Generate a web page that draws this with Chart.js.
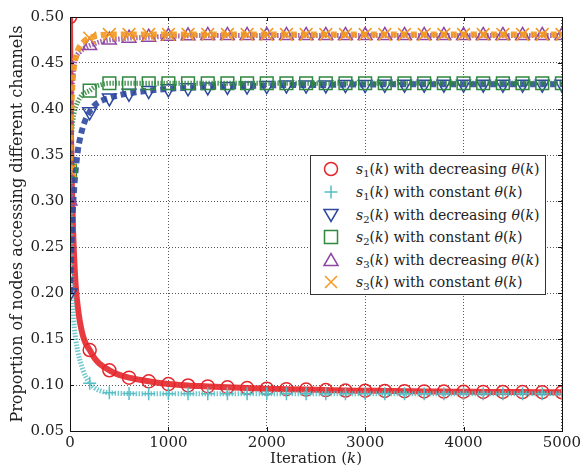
<!DOCTYPE html>
<html>
<head>
<meta charset="utf-8">
<script src="https://cdn.jsdelivr.net/npm/chart.js@4/dist/chart.umd.min.js"></script>
<style>
  html, body { margin: 0; padding: 0; background: #fff; }
  #wrap { position: relative; width: 584px; height: 470px; font-family: "DejaVu Serif", serif; color: #222; }
  #plot { position: absolute; left: 0; top: 0; }
  #xtitle { position: absolute; left: 70px; width: 492px; top: 449px; text-align: center; font-size: 15px; line-height: 18px; }
  #legend { position: absolute; left: 310px; top: 155px; width: 234px; height: 138px; border: 1px solid #333; background: #fff; }
  .row { position: absolute; left: 0; height: 20px; width: 234px; }
  .row svg { position: absolute; left: 10px; top: 0; }
  .row span.lab { position: absolute; left: 45px; top: 0; font-size: 14px; line-height: 20px; white-space: nowrap; }
  .sub { font-size: 10px; position: relative; top: 3px; }
  i { font-style: italic; }
</style>
</head>
<body>
<div id="wrap">
  <canvas id="plot" width="584" height="470"></canvas>
  <div id="xtitle">Iteration (<i>k</i>)</div>
  <div id="legend"></div>
</div>
<script>
// Iteration indices at which each proportion is sampled
const iterK = [0, 5, 10, 20, 30, 45, 60, 80, 100, 130, 160, 200, 250, 300, 400, 500, 600, 800,
  1000, 1200, 1400, 1600, 1800, 2000, 2200, 2400, 2600, 2800, 3000, 3200, 3400, 3600, 3800,
  4000, 4200, 4400, 4600, 4800, 5000];

const s1Decreasing = [0.500, 0.425, 0.372, 0.312, 0.272, 0.232, 0.205, 0.184, 0.169, 0.154, 0.145, 0.138, 0.129, 0.123, 0.116, 0.111, 0.108, 0.104,
  0.101, 0.0995, 0.0985, 0.0975, 0.0967, 0.0960, 0.0955, 0.0950, 0.0945, 0.0940, 0.0938, 0.0935, 0.0933, 0.0930, 0.0928,
  0.0927, 0.0925, 0.0924, 0.0923, 0.0922, 0.0921];
const s1Constant = [0.333, 0.290, 0.255, 0.205, 0.183, 0.162, 0.148, 0.136, 0.127, 0.117, 0.109, 0.102, 0.097, 0.094, 0.0915, 0.0910, 0.0907, 0.0905,
  0.0905, 0.0905, 0.0905, 0.0905, 0.0905, 0.0905, 0.0905, 0.0905, 0.0905, 0.0905, 0.0905, 0.0905, 0.0905, 0.0905, 0.0905,
  0.0905, 0.0905, 0.0905, 0.0905, 0.0905, 0.0905];
const s2Decreasing = [0.200, 0.215, 0.235, 0.268, 0.292, 0.318, 0.336, 0.355, 0.367, 0.380, 0.389, 0.397, 0.404, 0.408, 0.412, 0.415, 0.417, 0.420,
  0.422, 0.423, 0.424, 0.4245, 0.425, 0.4255, 0.426, 0.426, 0.4262, 0.4265, 0.4265, 0.4268, 0.427, 0.427, 0.427,
  0.427, 0.427, 0.427, 0.427, 0.427, 0.427];
const s2Constant = [0.333, 0.350, 0.362, 0.378, 0.388, 0.397, 0.403, 0.408, 0.412, 0.416, 0.418, 0.420, 0.424, 0.426, 0.428, 0.428, 0.428, 0.428,
  0.428, 0.428, 0.428, 0.428, 0.428, 0.428, 0.428, 0.428, 0.428, 0.428, 0.428, 0.428, 0.428, 0.428, 0.428,
  0.428, 0.428, 0.428, 0.428, 0.428, 0.428];
const s3Decreasing = [0.300, 0.360, 0.395, 0.420, 0.436, 0.450, 0.456, 0.460, 0.462, 0.465, 0.467, 0.469, 0.471, 0.473, 0.475, 0.476, 0.477, 0.478,
  0.479, 0.4795, 0.480, 0.480, 0.480, 0.480, 0.480, 0.480, 0.480, 0.480, 0.480, 0.480, 0.480, 0.480, 0.480,
  0.480, 0.480, 0.480, 0.480, 0.480, 0.480];
const s3Constant = [0.333, 0.360, 0.383, 0.417, 0.435, 0.450, 0.456, 0.464, 0.468, 0.472, 0.475, 0.477, 0.479, 0.480, 0.481, 0.481, 0.481, 0.481,
  0.481, 0.481, 0.481, 0.481, 0.481, 0.481, 0.481, 0.481, 0.481, 0.481, 0.481, 0.481, 0.481, 0.481, 0.481,
  0.481, 0.481, 0.481, 0.481, 0.481, 0.481];

const xTicks = [0, 1000, 2000, 3000, 4000, 5000];
const yTicks = [0.05, 0.10, 0.15, 0.20, 0.25, 0.30, 0.35, 0.40, 0.45, 0.50];

const markerEvery = 200;

const seriesStyles = [
  { data: s1Decreasing, sub: '1', mode: 'decreasing', color: 'rgb(228,38,43)', line: 'rgba(228,38,43,0.9)', width: 6, dash: [], style: 'circle', r: 6.5, rot: 0 },
  { data: s1Constant, sub: '1', mode: 'constant', color: 'rgb(86,190,196)', line: 'rgba(86,190,196,0.85)', width: 5, dash: [1.5, 1.5], style: 'cross', r: 6.5, rot: 0 },
  { data: s2Decreasing, sub: '2', mode: 'decreasing', color: 'rgb(45,72,158)', line: 'rgba(45,72,158,0.9)', width: 6, dash: [6, 4], style: 'triangle', r: 8, rot: 180 },
  { data: s2Constant, sub: '2', mode: 'constant', color: 'rgb(46,136,62)', line: 'rgba(46,136,62,0.85)', width: 5, dash: [1.5, 1.5], style: 'rect', r: 9, rot: 0 },
  { data: s3Decreasing, sub: '3', mode: 'decreasing', color: 'rgb(142,72,162)', line: 'rgba(142,72,162,0.85)', width: 5, dash: [1.5, 1.5], style: 'triangle', r: 8, rot: 0 },
  { data: s3Constant, sub: '3', mode: 'constant', color: 'rgb(243,152,32)', line: 'rgba(243,152,32,0.9)', width: 6, dash: [6, 4], style: 'crossRot', r: 9, rot: 0 }
];

const datasets = seriesStyles.map((s, i) => ({
  label: 's' + s.sub + '(k) with ' + s.mode + ' θ(k)',
  data: iterK.map((k, j) => ({ x: k, y: s.data[j] })),
  borderColor: s.line,
  borderWidth: s.width,
  borderDash: s.dash,
  borderCapStyle: 'butt',
  cubicInterpolationMode: 'monotone',
  pointStyle: s.style,
  pointRotation: s.rot,
  pointRadius: ctx => (iterK[ctx.dataIndex] % markerEvery === 0 ? s.r : 0),
  pointBorderColor: s.color,
  pointBackgroundColor: 'rgba(0,0,0,0)',
  pointBorderWidth: 1.5,
  fill: false,
  clip: 0,
  order: seriesStyles.length - i
}));

// Box around the plot plus short inward ticks on all four sides
const framePlugin = {
  id: 'frame',
  afterDatasetsDraw(chart) {
    const { ctx, chartArea: a, scales } = chart;
    ctx.save();
    ctx.strokeStyle = '#111';
    ctx.lineWidth = 1;
    ctx.setLineDash([]);
    ctx.beginPath();
    xTicks.forEach(v => {
      const px = Math.round(scales.x.getPixelForValue(v)) + 0.5;
      ctx.moveTo(px, a.bottom); ctx.lineTo(px, a.bottom - 4);
      ctx.moveTo(px, a.top); ctx.lineTo(px, a.top + 4);
    });
    yTicks.forEach(v => {
      const py = Math.round(scales.y.getPixelForValue(v)) + 0.5;
      ctx.moveTo(a.left, py); ctx.lineTo(a.left + 4, py);
      ctx.moveTo(a.right, py); ctx.lineTo(a.right - 4, py);
    });
    ctx.stroke();
    ctx.strokeRect(Math.round(a.left) + 0.5, Math.round(a.top) + 0.5, Math.round(a.right - a.left), Math.round(a.bottom - a.top));
    ctx.restore();
  }
};

const tickFont = { family: '"DejaVu Serif", serif', size: 15 };

new Chart(document.getElementById('plot'), {
  type: 'line',
  data: { datasets },
  plugins: [framePlugin],
  options: {
    responsive: false,
    animation: false,
    events: [],
    devicePixelRatio: 1,
    layout: { padding: { left: 0, top: 17, right: 22, bottom: 0 } },
    plugins: { legend: { display: false }, tooltip: { enabled: false } },
    scales: {
      x: {
        type: 'linear', min: 0, max: 5000,
        afterBuildTicks: sc => { sc.ticks = xTicks.map(v => ({ value: v })); },
        afterFit: sc => { sc.height = 39; },
        ticks: { font: tickFont, color: '#222', padding: 3, maxRotation: 0, callback: v => String(v) },
        grid: { color: 'rgba(0,0,0,0.65)', lineWidth: 1, drawTicks: false },
        border: { display: false, dash: [1, 2] }
      },
      y: {
        type: 'linear', min: 0.05, max: 0.50,
        afterBuildTicks: sc => { sc.ticks = yTicks.map(v => ({ value: v })); },
        afterFit: sc => { sc.width = 70; },
        ticks: { font: tickFont, color: '#222', padding: 6, callback: v => v.toFixed(2) },
        grid: { color: 'rgba(0,0,0,0.65)', lineWidth: 1, drawTicks: false },
        border: { display: false, dash: [1, 2] },
        title: {
          display: true,
          text: 'Proportion of nodes accessing different channels',
          font: { family: '"DejaVu Serif", serif', size: 16 },
          color: '#222',
          padding: { top: 8, bottom: 0 }
        }
      }
    }
  }
});

// Legend markers and labels
const markerSvg = {
  circle: c => `<circle cx="10" cy="10" r="6.5" fill="none" stroke="${c}" stroke-width="1.5"/>`,
  cross: c => `<path d="M10 3.5 V16.5 M3.5 10 H16.5" stroke="${c}" stroke-width="1.5"/>`,
  triangleDown: c => `<polygon points="3,4.5 17,4.5 10,16.5" fill="none" stroke="${c}" stroke-width="1.5"/>`,
  rect: c => `<rect x="3.5" y="3.5" width="13" height="13" fill="none" stroke="${c}" stroke-width="1.5"/>`,
  triangle: c => `<polygon points="10,3.5 3,15.5 17,15.5" fill="none" stroke="${c}" stroke-width="1.5"/>`,
  crossRot: c => `<path d="M4 4 L16 16 M16 4 L4 16" stroke="${c}" stroke-width="1.5"/>`
};
const legendRowTops = [3, 26, 49, 71, 94, 116];
const legend = document.getElementById('legend');
seriesStyles.forEach((s, i) => {
  const key = s.style === 'triangle' && s.rot === 180 ? 'triangleDown' : s.style;
  const row = document.createElement('div');
  row.className = 'row';
  row.style.top = legendRowTops[i] + 'px';
  row.innerHTML = `<svg width="20" height="20" viewBox="0 0 20 20">${markerSvg[key](s.color)}</svg>` +
    `<span class="lab"><i>s</i><span class="sub">${s.sub}</span>(<i>k</i>) with ${s.mode} <i>θ</i>(<i>k</i>)</span>`;
  legend.appendChild(row);
});
</script>
</body>
</html>
